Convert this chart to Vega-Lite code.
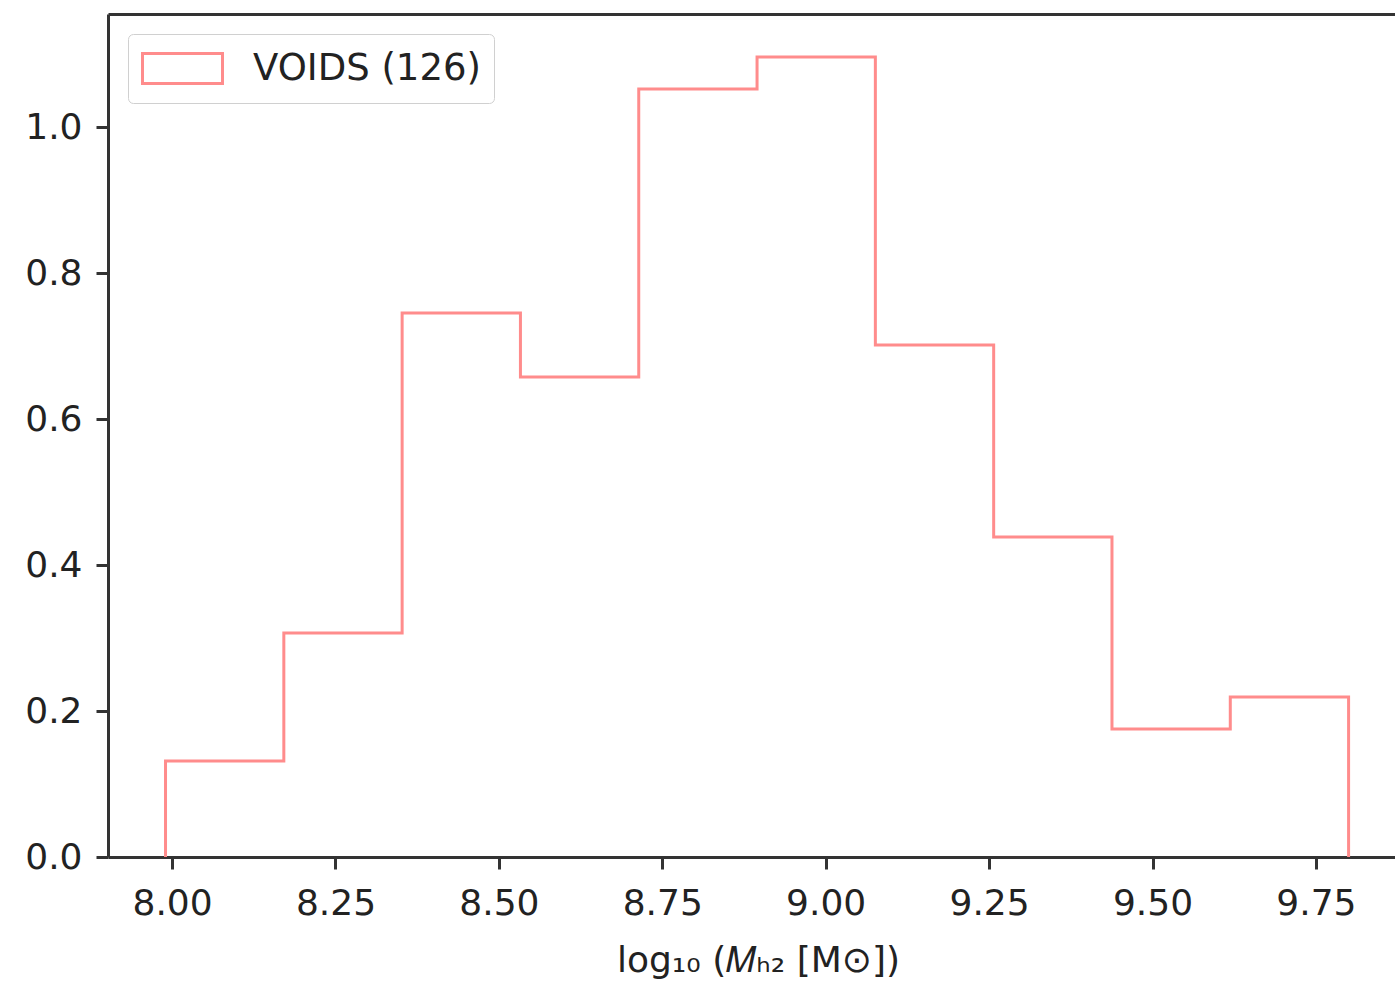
{
  "$schema": "https://vega.github.io/schema/vega-lite/v6.json",
  "width": 1287,
  "height": 843,
  "autosize": "none",
  "padding": {"left": 108, "top": 14, "right": 0, "bottom": 128},
  "background": "white",
  "config": {
    "view": {"stroke": null},
    "font": "DejaVu Sans",
    "axis": {"grid": false, "domainColor": "#333333", "domainWidth": 3, "tickColor": "#333333", "tickWidth": 3, "tickSize": 12, "labelColor": "#222222", "labelFont": "DejaVu Sans", "labelFontSize": 36, "titleFont": "DejaVu Sans", "titleFontSize": 36, "titleFontWeight": "normal", "titleColor": "#222222"}
  },
  "data": {
    "values": [
      {"i": 0, "x": 7.99, "y": 0},
      {"i": 1, "x": 7.99, "y": 0.1315},
      {"i": 2, "x": 8.171, "y": 0.3069},
      {"i": 3, "x": 8.352, "y": 0.7454},
      {"i": 4, "x": 8.533, "y": 0.6577},
      {"i": 5, "x": 8.714, "y": 1.0524},
      {"i": 6, "x": 8.895, "y": 1.0962},
      {"i": 7, "x": 9.076, "y": 0.7016},
      {"i": 8, "x": 9.257, "y": 0.4385},
      {"i": 9, "x": 9.438, "y": 0.1754},
      {"i": 10, "x": 9.619, "y": 0.2192},
      {"i": 11, "x": 9.8, "y": 0.2192},
      {"i": 12, "x": 9.8, "y": 0}
    ]
  },
  "layer": [
    {
      "mark": {"type": "line", "interpolate": "step-after", "strokeWidth": 3},
      "encoding": {
        "x": {"field": "x", "type": "quantitative", "scale": {"domain": [7.902, 9.871], "nice": false, "zero": false},
          "axis": {"values": [8, 8.25, 8.5, 8.75, 9, 9.25, 9.5, 9.75], "format": ".2f", "labelPadding": 17, "title": "log₁₀ (𝑀ₕ₂ [M⊙])", "titlePadding": 22, "titleX": 650}},
        "y": {"field": "y", "type": "quantitative", "scale": {"domain": [0, 1.155], "nice": false},
          "axis": {"values": [0, 0.2, 0.4, 0.6, 0.8, 1.0], "format": ".1f", "labelPadding": 14, "title": null}},
        "order": {"field": "i"},
        "color": {"datum": "VOIDS (126)", "scale": {"range": ["#ff8c8c"]},
          "legend": {"orient": "top-left", "offset": 20, "title": null, "symbolType": "M-1,-0.75H3V0.75H-1Z", "symbolSize": 1600, "symbolStrokeWidth": 3, "symbolFillColor": "transparent", "labelFontSize": 37, "labelColor": "#222222", "labelOffset": 69, "labelLimit": 600, "padding": 13, "fillColor": "white", "strokeColor": "#d0d0d0", "cornerRadius": 5}}
      }
    },
    {
      "mark": {"type": "line", "strokeOpacity": 0},
      "encoding": {
        "x": {"field": "x", "type": "quantitative", "axis": {"orient": "top", "labels": false, "ticks": false, "title": null}},
        "y": {"field": "y", "type": "quantitative"}
      }
    }
  ],
  "resolve": {"axis": {"x": "independent"}}
}
